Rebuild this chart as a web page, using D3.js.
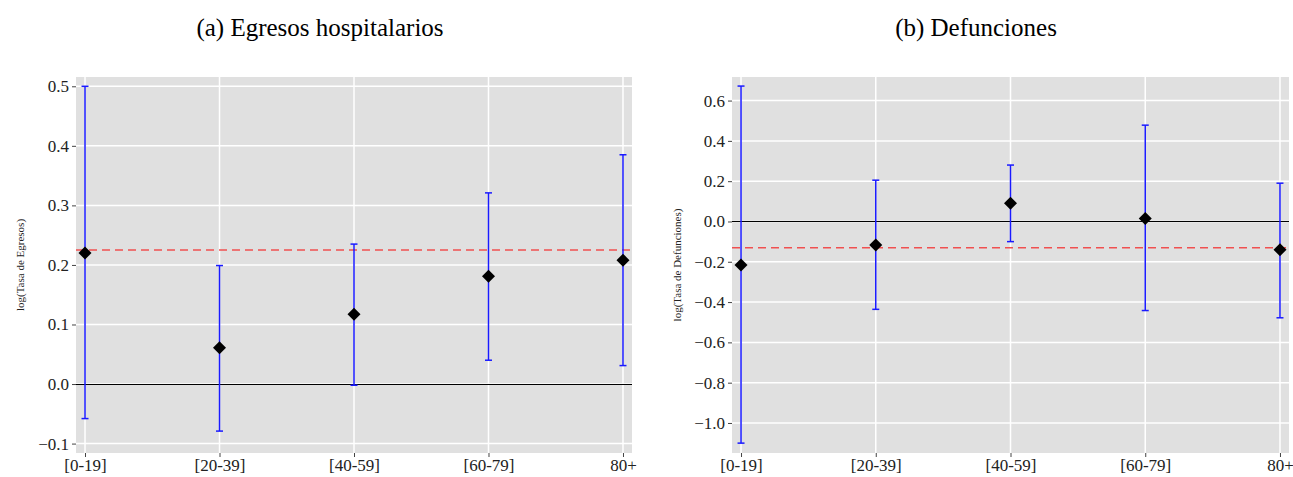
<!DOCTYPE html>
<html><head><meta charset="utf-8">
<script src="https://cdn.jsdelivr.net/npm/d3@7"></script>
<style>body{margin:0;background:#fff}svg{display:block}svg text{font-family:'Liberation Serif','Times New Roman',serif}</style>
</head><body><svg id="c" width="1293" height="477"></svg>
<script>
const categories = ["[0-19]","[20-39]","[40-59]","[60-79]","80+"];
// Panel (a) Egresos hospitalarios
const egresosPoint = [0.220, 0.061, 0.117, 0.181, 0.208];
const egresosLower = [-0.058, -0.079, -0.002, 0.040, 0.031];
const egresosUpper = [0.500, 0.199, 0.235, 0.321, 0.385];
const egresosRef = 0.225;
const egresosTicks = [-0.1, 0.0, 0.1, 0.2, 0.3, 0.4, 0.5];
// Panel (b) Defunciones
const defPoint = [-0.216, -0.117, 0.090, 0.015, -0.140];
const defLower = [-1.100, -0.436, -0.100, -0.442, -0.478];
const defUpper = [0.672, 0.205, 0.280, 0.478, 0.190];
const defRef = -0.130;
const defTicks = [-1.0, -0.8, -0.6, -0.4, -0.2, 0.0, 0.2, 0.4, 0.6];

const svg = d3.select("#c");
const font = "'Liberation Serif','Times New Roman',serif";

function panel(o){
  const g = svg.append("g");
  const x = d3.scalePoint().domain(categories).range([o.x0, o.x1]).padding(0.067);
  const y = d3.scaleLinear().domain(o.ydom).range([453, 77]);
  g.append("rect").attr("x", o.x0).attr("y", 77).attr("width", o.x1-o.x0).attr("height", 376).attr("fill", "#e0e0e0");
  g.selectAll(".hg").data(o.ticks).enter().append("line")
    .attr("x1", o.x0).attr("x2", o.x1).attr("y1", d=>y(d)).attr("y2", d=>y(d))
    .attr("stroke", "#fff").attr("stroke-width", 1.5);
  g.selectAll(".vg").data(categories).enter().append("line")
    .attr("x1", d=>x(d)).attr("x2", d=>x(d)).attr("y1", 77).attr("y2", 453)
    .attr("stroke", "#fff").attr("stroke-width", 1.5);
  g.append("line").attr("x1", o.x0).attr("x2", o.x1).attr("y1", y(0)).attr("y2", y(0))
    .attr("stroke", "#000").attr("stroke-width", 1).attr("shape-rendering", "crispEdges");
  g.append("line").attr("x1", o.x0).attr("x2", o.x1).attr("y1", y(o.ref)).attr("y2", y(o.ref))
    .attr("stroke", "#f05050").attr("stroke-width", 1.5).attr("stroke-dasharray", "8,5");
  const eb = g.selectAll(".eb").data(categories.map((c,i)=>({c, lo:o.lo[i], hi:o.hi[i], p:o.pt[i]}))).enter().append("g");
  eb.append("line").attr("x1", d=>x(d.c)).attr("x2", d=>x(d.c)).attr("y1", d=>y(d.lo)).attr("y2", d=>y(d.hi))
    .attr("stroke", "#1a1aff").attr("stroke-width", 1.5);
  eb.append("line").attr("x1", d=>x(d.c)-3.5).attr("x2", d=>x(d.c)+3.5).attr("y1", d=>y(d.lo)).attr("y2", d=>y(d.lo))
    .attr("stroke", "#1a1aff").attr("stroke-width", 1.5);
  eb.append("line").attr("x1", d=>x(d.c)-3.5).attr("x2", d=>x(d.c)+3.5).attr("y1", d=>y(d.hi)).attr("y2", d=>y(d.hi))
    .attr("stroke", "#1a1aff").attr("stroke-width", 1.5);
  eb.append("path").attr("d", d=>{const cx=x(d.c), cy=y(d.p), r=6.5; return `M${cx},${cy-r}L${cx+r},${cy}L${cx},${cy+r}L${cx-r},${cy}Z`;})
    .attr("fill", "#000");
  const ya = g.append("g").attr("transform", `translate(${o.x0},0)`)
    .call(d3.axisLeft(y).tickValues(o.ticks).tickFormat(d3.format(".1f")).tickSize(4).tickPadding(3));
  ya.attr("font-family", null);
  ya.select(".domain").remove();
  ya.selectAll("line").attr("stroke", "#444");
  ya.selectAll("text").style("font-family", font).style("font-size", "17px").attr("fill", "#222");
  const xa = g.append("g").attr("transform", `translate(0,453)`)
    .call(d3.axisBottom(x).tickSize(4).tickPadding(2));
  xa.attr("font-family", null);
  xa.select(".domain").remove();
  xa.selectAll("line").attr("stroke", "#444");
  xa.selectAll("text").style("font-family", font).style("font-size", "17px").attr("fill", "#222");
  g.append("text").attr("transform", `translate(${o.ylx},265) rotate(-90)`).attr("text-anchor", "middle")
    .attr("dy", "0.35em").style("font-family", font).style("font-size", "11px").attr("fill", "#222").text(o.ylab);
  g.append("text").attr("x", o.tx).attr("y", 36).attr("text-anchor", "middle")
    .style("font-family", font).style("font-size", "25px").attr("fill", "#000").text(o.title);
}

panel({x0:76, x1:632, ydom:[-0.1158, 0.5156], ticks:egresosTicks, pt:egresosPoint, lo:egresosLower, hi:egresosUpper,
  ref:egresosRef, ylab:"log(Tasa de Egresos)", ylx:20, title:"(a) Egresos hospitalarios", tx:320});
panel({x0:732, x1:1289, ydom:[-1.149, 0.717], ticks:defTicks, pt:defPoint, lo:defLower, hi:defUpper,
  ref:defRef, ylab:"log(Tasa de Defunciones)", ylx:677, title:"(b) Defunciones", tx:976});
</script></body></html>
